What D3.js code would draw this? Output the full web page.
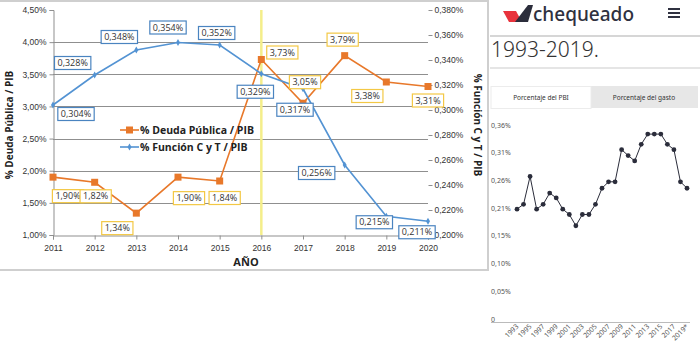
<!DOCTYPE html>
<html>
<head>
<meta charset="utf-8">
<script src="https://cdn.jsdelivr.net/npm/d3@7"></script>
<style>
  body { margin: 0; background: #fff; }
  svg { display: block; }
</style>
</head>
<body>
<div id="chart"></div>
<script>
// left chart data (Excel style)
const years = [2011, 2012, 2013, 2014, 2015, 2016, 2017, 2018, 2019, 2020]
const deuda = [1.90, 1.82, 1.34, 1.90, 1.84, 3.73, 3.05, 3.79, 3.38, 3.31]
const funcion = [0.304, 0.328, 0.348, 0.354, 0.352, 0.329, 0.317, 0.256, 0.215, 0.211]
const leftTicks = [1.0, 1.5, 2.0, 2.5, 3.0, 3.5, 4.0, 4.5]
const rightTicks = [0.200, 0.220, 0.240, 0.260, 0.280, 0.300, 0.320, 0.340, 0.360, 0.380]
const markYear = 2016

// right chart data (chequeado screenshot)
const cqYears = d3.range(1993, 2020)
const cqValues = [0.205, 0.214, 0.266, 0.205, 0.214, 0.235, 0.226, 0.205, 0.195, 0.174,
    0.195, 0.195, 0.214, 0.244, 0.256, 0.256, 0.316, 0.305, 0.295, 0.326,
    0.345, 0.345, 0.345, 0.326, 0.316, 0.256, 0.244]
const cqTickValues = [0, 0.0517, 0.1034, 0.155, 0.207, 0.258, 0.31, 0.362]
const cqTickLabels = ['0', '0,05%', '0,10%', '0,15%', '0,21%', '0,26%', '0,31%', '0,36%']
const cqXLabels = ['1993', '1995', '1997', '1999', '2001', '2003', '2005', '2007',
    '2009', '2011', '2013', '2015', '2017', '2019*']

// label offsets (layout only)
const deudaLabelOff = [[15, 19], [1, 14], [-19, 15], [11, 21], [5, 17], [21, -7], [2, -21], [-2, -16], [-19, 14], [0, 14]]
const funcLabelOff = [[23, 9], [-22, -12], [-17, -13], [-10, -15], [-3, -12], [-6, 18], [-8, 21], [-28, 8], [-12, 6], [-11, 11]]

const W = 700, H = 354
const svg = d3.select('#chart').append('svg').attr('width', W).attr('height', H)
svg.append('rect').attr('width', W).attr('height', H).attr('fill', '#fff')

const comma = (f) => (v) => f(v).replace('.', ',')
const fmt2 = comma(d3.format('.2f'))
const fmt3 = comma(d3.format('.3f'))

// ---------- left chart ----------
const plot = { left: 53, right: 428, top: 10, bottom: 235 }
const x = d3.scaleLinear().domain([2011, 2020]).range([plot.left, plot.right])
const yL = d3.scaleLinear().domain([1, 4.5]).range([plot.bottom, plot.top])
const yR = d3.scaleLinear().domain([0.2, 0.38]).range([plot.bottom, plot.top])

const left = svg.append('g').style('font-family', '"Open Sans", "Noto Sans", sans-serif')

// panel border
left.append('line').attr('x1', 0).attr('x2', 489).attr('y1', 1).attr('y2', 1)
    .attr('stroke', '#cfcfcf').attr('stroke-width', 2)
left.append('line').attr('x1', 0).attr('x2', 489).attr('y1', 270).attr('y2', 270)
    .attr('stroke', '#cfcfcf').attr('stroke-width', 2)
left.append('line').attr('x1', 488).attr('x2', 488).attr('y1', 0).attr('y2', 271)
    .attr('stroke', '#cfcfcf').attr('stroke-width', 2)

// grid
left.append('g').selectAll('line').data(leftTicks.filter((d) => d > 1 && d < 4.5)).join('line')
    .attr('x1', plot.left).attr('x2', plot.right)
    .attr('y1', (d) => Math.round(yL(d)) + 0.5).attr('y2', (d) => Math.round(yL(d)) + 0.5)
    .attr('stroke', '#8f8f8f')

// left axis
const axL = left.append('g').attr('transform', `translate(${plot.left + 0.5},0)`)
    .call(d3.axisLeft(yL).tickValues(leftTicks).tickFormat((d) => fmt2(d) + '%').tickSize(4).tickPadding(3))
axL.select('.domain').attr('stroke', '#8f8f8f')
axL.selectAll('line').attr('stroke', '#8f8f8f')
axL.selectAll('text').attr('fill', '#333').style('font-size', '8.5px')

// right axis
const axR = left.append('g').attr('transform', `translate(${plot.right + 0.5},0)`)
    .call(d3.axisRight(yR).tickValues(rightTicks).tickFormat((d) => fmt3(d) + '%').tickSize(4).tickPadding(2))
axR.select('.domain').remove()
axR.selectAll('line').attr('stroke', '#8f8f8f')
axR.selectAll('text').attr('fill', '#333').style('font-size', '8.5px')

// bottom axis
const axB = left.append('g').attr('transform', `translate(0,${plot.bottom + 0.5})`)
    .call(d3.axisBottom(x).tickValues(years).tickFormat(d3.format('d')).tickSize(4).tickPadding(5))
axB.select('.domain').attr('stroke', '#8f8f8f')
axB.selectAll('line').attr('stroke', '#8f8f8f')
axB.selectAll('text').attr('fill', '#333').style('font-size', '8.5px')

// 2016 highlight
left.append('line').attr('x1', x(markYear)).attr('x2', x(markYear))
    .attr('y1', plot.top).attr('y2', plot.bottom)
    .attr('stroke', '#f4ee8a').attr('stroke-width', 2.5)

// axis titles
left.append('text').attr('x', 246).attr('y', 266).attr('text-anchor', 'middle')
    .style('font-size', '11px').style('font-weight', 'bold').attr('fill', '#222').text('AÑO')
left.append('text').attr('transform', 'translate(13,125) rotate(-90)').attr('text-anchor', 'middle')
    .style('font-size', '10px').style('font-weight', 'bold').attr('fill', '#222').text('% Deuda Pública / PIB')
left.append('text').attr('transform', 'translate(474,125) rotate(90)').attr('text-anchor', 'middle')
    .style('font-size', '10px').style('font-weight', 'bold').attr('fill', '#222').text('% Función C y T / PIB')

const orange = '#e8782a', blue = '#5393d3'

// lines
left.append('path').datum(deuda)
    .attr('d', d3.line().x((d, i) => x(years[i])).y((d) => yL(d)))
    .attr('fill', 'none').attr('stroke', orange).attr('stroke-width', 1.6)
left.append('path').datum(funcion)
    .attr('d', d3.line().x((d, i) => x(years[i])).y((d) => yR(d)))
    .attr('fill', 'none').attr('stroke', blue).attr('stroke-width', 1.6)

// markers
left.append('g').selectAll('rect').data(deuda).join('rect')
    .attr('x', (d, i) => x(years[i]) - 3.5).attr('y', (d) => yL(d) - 3.5)
    .attr('width', 7).attr('height', 7).attr('fill', orange)
const diamond = d3.symbol().type(d3.symbolDiamond).size(14)
left.append('g').selectAll('path').data(funcion).join('path')
    .attr('transform', (d, i) => `translate(${x(years[i])},${yR(d)})`)
    .attr('d', diamond).attr('fill', blue)

// data labels
function drawLabels(values, yScale, fmt, off, border) {
    const g = left.append('g')
    values.forEach((v, i) => {
        const cx = x(years[i]) + off[i][0]
        const cy = yScale(v) + off[i][1]
        const lg = g.append('g')
        const r = lg.append('rect').attr('fill', '#fff').attr('stroke', border).attr('stroke-width', 1.2)
        const t = lg.append('text').attr('x', cx).attr('y', cy + 3.2).attr('text-anchor', 'middle')
            .style('font-size', '9px').attr('fill', '#333').text(fmt(v) + '%')
        const w = t.node().getComputedTextLength() + 6
        r.attr('x', cx - w / 2).attr('y', cy - 6.5).attr('width', w).attr('height', 13)
    })
}
drawLabels(deuda, yL, fmt2, deudaLabelOff, '#f3c845')
drawLabels(funcion, yR, fmt3, funcLabelOff, '#4a84c0')

// legend
const legend = left.append('g').style('font-size', '10.5px').style('font-weight', 'bold')
legend.append('line').attr('x1', 120).attr('x2', 139).attr('y1', 130).attr('y2', 130)
    .attr('stroke', orange).attr('stroke-width', 1.6)
legend.append('rect').attr('x', 126).attr('y', 126.5).attr('width', 7).attr('height', 7).attr('fill', orange)
legend.append('text').attr('x', 140).attr('y', 133.5).attr('fill', '#222').text('% Deuda Pública / PIB')
legend.append('line').attr('x1', 120).attr('x2', 139).attr('y1', 147).attr('y2', 147)
    .attr('stroke', blue).attr('stroke-width', 1.6)
legend.append('path').attr('transform', 'translate(129.5,147)').attr('d', diamond).attr('fill', blue)
legend.append('text').attr('x', 140).attr('y', 150.5).attr('fill', '#222').text('% Función C y T / PIB')

// ---------- right panel (chequeado) ----------
const right = svg.append('g').style('font-family', '"Noto Sans", "Open Sans", sans-serif')

// logo
right.append('polygon').attr('points', '503,11 516,11 522,22 509,22').attr('fill', '#e8333c')
right.append('polygon').attr('points', '515,22 528,5 533,5 528,22').attr('fill', '#2b2d3b')
right.append('text').attr('x', 533).attr('y', 21).style('font-size', '19px').style('font-weight', '500')
    .attr('fill', '#2f3140').text('chequeado')
right.append('g').selectAll('rect').data([0, 1, 2]).join('rect')
    .attr('x', 668).attr('y', (d) => 8 + d * 4).attr('width', 12).attr('height', 2).attr('fill', '#2f3140')

right.append('line').attr('x1', 490).attr('x2', 700).attr('y1', 36).attr('y2', 36)
    .attr('stroke', '#c9c9c9').attr('stroke-width', 1.5)
right.append('text').attr('x', 491).attr('y', 57).style('font-size', '21px').style('font-weight', '300')
    .attr('fill', '#333').text('1993-2019.')
right.append('line').attr('x1', 490).attr('x2', 700).attr('y1', 68).attr('y2', 68)
    .attr('stroke', '#dcdcdc').attr('stroke-width', 1.5)

// tabs
right.append('rect').attr('x', 591).attr('y', 86).attr('width', 107).attr('height', 22).attr('fill', '#e7e7e7')
right.append('rect').attr('x', 491).attr('y', 86.5).attr('width', 100).attr('height', 22)
    .attr('fill', '#fff').attr('stroke', '#ececec')
right.append('text').attr('x', 541).attr('y', 100).attr('text-anchor', 'middle')
    .style('font-size', '6.5px').attr('fill', '#333').text('Porcentaje del PBI')
right.append('text').attr('x', 644).attr('y', 100).attr('text-anchor', 'middle')
    .style('font-size', '6.5px').attr('fill', '#333').text('Porcentaje del gasto')

// mini line chart
const cx2 = d3.scalePoint().domain(cqYears).range([517, 687])
const cy2 = d3.scaleLinear().domain([0, cqTickValues[cqTickValues.length - 1]]).range([319, 125])

right.append('g').selectAll('text').data(cqTickValues).join('text')
    .attr('x', 491).attr('y', (d) => cy2(d) + 2.5)
    .style('font-size', '7px').attr('fill', '#555')
    .text((d, i) => cqTickLabels[i])

right.append('line').attr('x1', 491).attr('x2', 690).attr('y1', 322.5).attr('y2', 322.5)
    .attr('stroke', '#bbb')

right.append('g').selectAll('text').data(cqXLabels).join('text')
    .attr('transform', (d, i) => `translate(${cx2(cqYears[i * 2]) + 2},${327}) rotate(-45)`)
    .attr('text-anchor', 'end')
    .style('font-size', '7px').attr('fill', '#555')
    .text((d) => d)

right.append('path').datum(cqValues)
    .attr('d', d3.line().x((d, i) => cx2(cqYears[i])).y((d) => cy2(d)))
    .attr('fill', 'none').attr('stroke', '#2b2d3b').attr('stroke-width', 1)
right.append('g').selectAll('circle').data(cqValues).join('circle')
    .attr('cx', (d, i) => cx2(cqYears[i])).attr('cy', (d) => cy2(d))
    .attr('r', 2.4).attr('fill', '#2b2d3b')
</script>
</body>
</html>
